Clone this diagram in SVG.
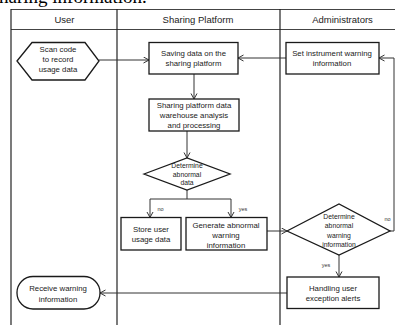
<svg xmlns="http://www.w3.org/2000/svg" width="395" height="325" viewBox="0 0 395 325">
<defs>
<marker id="arr" markerWidth="8" markerHeight="8" refX="6" refY="3.5" orient="auto" markerUnits="userSpaceOnUse">
<path d="M0.5,0.5 L6,3.5 L0.5,6.5" fill="none" stroke="#333" stroke-width="1"/>
</marker>
<style>
.lane{stroke:#222;stroke-width:1.2;fill:none}
.hdr{stroke:#444;stroke-width:1.1;fill:none}
.box{fill:#fff;stroke:#1a1a1a;stroke-width:1.3}
.t{font-family:"Liberation Sans",Arial,sans-serif;font-size:7.8px;fill:#222;text-anchor:middle}
.d{font-family:"Liberation Sans",Arial,sans-serif;font-size:6.8px;fill:#222;text-anchor:middle}
.h{font-family:"Liberation Sans",Arial,sans-serif;font-size:9.5px;fill:#222;text-anchor:middle}
.l{font-family:"Liberation Sans",Arial,sans-serif;font-size:5.5px;fill:#333;text-anchor:middle}
.c{stroke:#333;stroke-width:1;fill:none}
.ca{stroke:#333;stroke-width:1;fill:none;marker-end:url(#arr)}
</style>
</defs>
<rect width="395" height="325" fill="#fff"/>
<text x="-1" y="2.5" font-family="Liberation Serif,Times New Roman,serif" font-size="19" fill="#000">haring information.</text>
<g id="pool">
<line class="hdr" x1="11" y1="9.5" x2="395" y2="9.5"/>
<line class="hdr" x1="11" y1="29.5" x2="395" y2="29.5"/>
<line class="lane" x1="11" y1="9" x2="11" y2="325"/>
<line class="lane" x1="117" y1="9" x2="117" y2="325"/>
<line class="lane" x1="280" y1="9" x2="280" y2="325"/>
<text class="h" x="64.5" y="22.5">User</text>
<text class="h" x="198" y="22.5">Sharing Platform</text>
<text class="h" x="342.5" y="22.5">Administrators</text>
</g>
<g id="connectors">
<line class="ca" x1="99" y1="60" x2="149" y2="60"/>
<line class="ca" x1="194" y1="74" x2="194" y2="99"/>
<line class="ca" x1="187" y1="131" x2="187" y2="158"/>
<polyline class="c" points="187,190 187,199"/>
<polyline class="c" points="150,199 231,199"/>
<line class="ca" x1="150" y1="199" x2="150" y2="217.5"/>
<line class="ca" x1="231" y1="199" x2="231" y2="217.5"/>
<line class="ca" x1="267" y1="231" x2="287" y2="231"/>
<polyline class="ca" points="390,231 394,231 394,58 379,58"/>
<line class="ca" x1="286" y1="58" x2="238" y2="58"/>
<line class="ca" x1="339" y1="255" x2="339" y2="277"/>
<line class="ca" x1="287" y1="293" x2="100" y2="293"/>
<text class="l" x="160.5" y="211">no</text>
<text class="l" x="243" y="211">yes</text>
<text class="l" x="387.5" y="221">no</text>
<text class="l" x="326" y="267">yes</text>
</g>
<g id="scan">
<polygon class="box" points="17,61 32,42.5 85,42.5 99,61 85,80 32,80"/>
<text class="t" x="58" y="52">Scan code</text>
<text class="t" x="58" y="62">to record</text>
<text class="t" x="58" y="72">usage data</text>
</g>
<g id="saving">
<rect class="box" x="149" y="42.5" width="89" height="31.5"/>
<text class="t" x="193.5" y="56">Saving data on the</text>
<text class="t" x="193.5" y="66">sharing platform</text>
</g>
<g id="warehouse">
<rect class="box" x="149" y="99" width="90" height="32"/>
<text class="t" x="194" y="108">Sharing platform data</text>
<text class="t" x="194" y="118">warehouse analysis</text>
<text class="t" x="194" y="128">and processing</text>
</g>
<g id="determine1">
<polygon class="box" points="144,174 187,158 230,174 187,190"/>
<text class="d" x="187" y="167.5">Determine</text>
<text class="d" x="187" y="176.5">abnormal</text>
<text class="d" x="187" y="185">data</text>
</g>
<g id="store">
<rect class="box" x="121" y="217.5" width="60" height="32.5"/>
<text class="t" x="151" y="232">Store user</text>
<text class="t" x="151" y="242">usage data</text>
</g>
<g id="generate">
<rect class="box" x="186" y="217.5" width="81" height="32.5"/>
<text class="t" x="226" y="227.7">Generate abnormal</text>
<text class="t" x="226" y="237.7">warning</text>
<text class="t" x="226" y="247.7">information</text>
</g>
<g id="setinfo">
<rect class="box" x="286" y="42.5" width="93" height="31.5"/>
<text class="t" x="332" y="56">Set instrument warning</text>
<text class="t" x="332" y="66">information</text>
</g>
<g id="determine2">
<polygon class="box" points="287,231 339,204 390,231 339,255"/>
<text class="d" x="339" y="219">Determine</text>
<text class="d" x="339" y="227.5">abnormal</text>
<text class="d" x="339" y="237.5">warning</text>
<text class="d" x="339" y="246.5">information</text>
</g>
<g id="handling">
<rect class="box" x="287" y="277" width="92" height="31.5"/>
<text class="t" x="333" y="291">Handling user</text>
<text class="t" x="333" y="301">exception alerts</text>
</g>
<g id="receive">
<rect class="box" x="17" y="276.5" width="83" height="32.5" rx="16" ry="16"/>
<text class="t" x="58" y="291">Receive warning</text>
<text class="t" x="58" y="301.5">information</text>
</g>
</svg>
